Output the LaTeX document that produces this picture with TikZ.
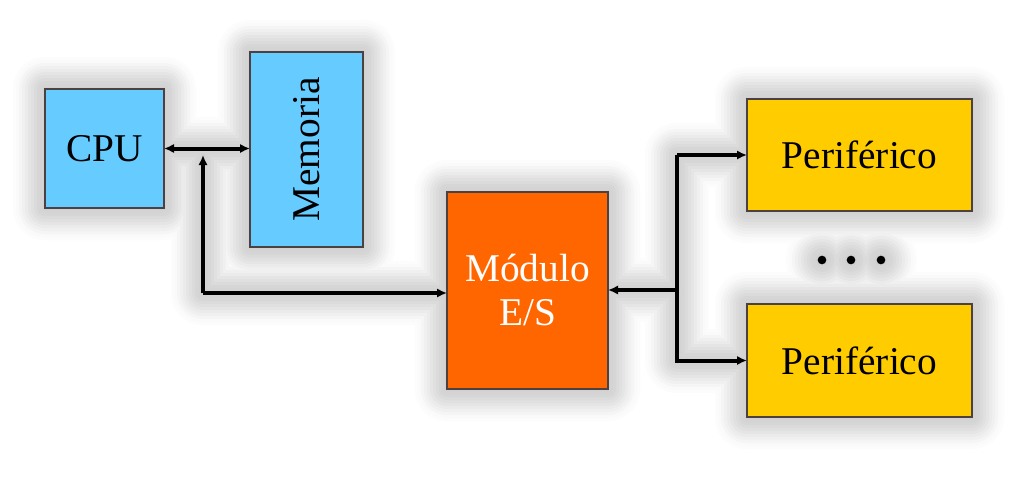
\documentclass[tikz,border=0pt]{standalone}
\usepackage{fontspec}
\setmainfont{Liberation Serif}
\usetikzlibrary{arrows.meta,calc}
\pgfdeclarelayer{bg}
\pgfsetlayers{bg,main}
\definecolor{cpublue}{HTML}{66CCFF}
\definecolor{modorange}{HTML}{FF6600}
\definecolor{peryellow}{HTML}{FFCC00}
\definecolor{boxline}{HTML}{4D4040}
\tikzset{
  box/.style={draw=boxline, line width=0.8pt, inner sep=0pt, outer sep=0pt,
    font=\fontsize{29.5}{33}\selectfont, align=center},
  tip/.tip={Latex[length=7.5pt,width=7pt]},
  conn/.style={line width=3pt, black, -tip},
  dotnode/.style={circle, fill=black, inner sep=0pt, minimum size=6.5pt},
}
\begin{document}
\begin{tikzpicture}[x=0.75pt,y=-0.75pt]
\useasboundingbox (0,0) rectangle (1034,483);
% boxes
\node[box, fill=cpublue, minimum width=89.25pt, minimum height=89.25pt] (cpu) at (104.5,148.5) {CPU};
\node[box, fill=cpublue, minimum width=84.75pt, minimum height=146.25pt] (mem) at (306.5,149.5) {\rotatebox{90}{Memoria}};
\node[box, fill=modorange, text=white, minimum width=120.75pt, minimum height=147.75pt] (mod) at (527.5,290.5) {Módulo\\E/S};
\node[box, fill=peryellow, minimum width=168.75pt, minimum height=84pt] (p1) at (859.5,155) {Periférico};
\node[box, fill=peryellow, minimum width=168.75pt, minimum height=84.75pt] (p2) at (859.5,360.5) {Periférico};
\node[dotnode] (d1) at (822,260) {};
\node[dotnode] (d2) at (851,260) {};
\node[dotnode] (d3) at (881,260) {};
% junctions
\coordinate (j1) at (203,293);
\coordinate (jt) at (203,155);
\coordinate (j2) at (677,290);
% connectors
\draw[conn,tip-tip] (cpu.east) -- (mem.west |- cpu.east);
\draw[conn] (j1) -- (jt);
\draw[conn] (j1) -- (j1 -| mod.west);
\draw[conn] (j2) -- (j2 -| mod.east);
\draw[conn] (j2 |- p1.west) -- (j2 |- p2.west) -- (p2.west);
\draw[conn] (j2 |- p1.west) -- (p1.west);
% glow
\begin{pgfonlayer}{bg}
\fill[white] (0,0) rectangle (1034,483);
\foreach \d/\p in {32/1,29/2,26/4,23/6,20/8,17/10,14/12,11/14,8/16,5/17,2/18}{
  \foreach \n in {cpu,mem,mod,p1,p2}{
    \fill[black!\p, rounded corners=\d*0.75pt] ($(\n.south west)+(-\d,\d)$) rectangle ($(\n.north east)+(\d,-\d)$);
  }
  \draw[black!\p, line width=\d*1.5pt, line cap=round, line join=round]
    (cpu.east) -- (mem.west |- cpu.east)
    (jt) -- (j1) -- (j1 -| mod.west)
    (j2) -- (j2 -| mod.east)
    (j2 |- p1.west) -- (j2 |- p2.west) -- (p2.west)
    (j2 |- p1.west) -- (p1.west);
  \foreach \n in {d1,d2,d3}{
    \fill[black!\p] (\n.center) circle[radius=3pt+\d*0.75pt];
  }
}
\end{pgfonlayer}
\end{tikzpicture}
\end{document}
